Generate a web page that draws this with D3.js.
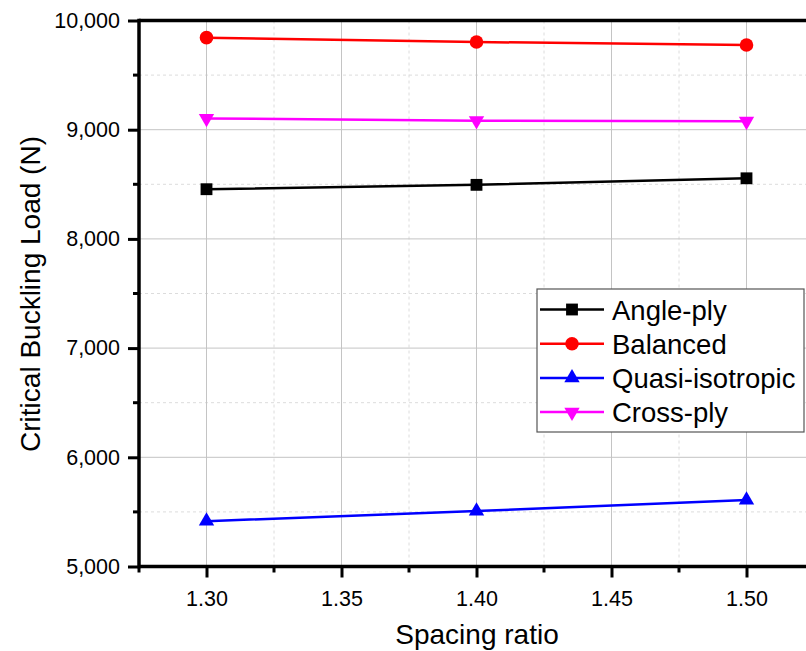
<!DOCTYPE html>
<html><head><meta charset="utf-8">
<script src="https://cdn.jsdelivr.net/npm/d3@7"></script>
<style>body{margin:0;background:#fff}svg{display:block}</style>
</head><body>
<script>
const xValues = [1.30, 1.40, 1.50];
const seriesNames = ["Angle-ply", "Balanced", "Quasi-isotropic", "Cross-ply"];
const angleply = [8455, 8495, 8555];
const balanced = [9843, 9803, 9775];
const quasi = [5415, 5508, 5608];
const crossply = [9103, 9083, 9077];
const xTicks = [1.30, 1.35, 1.40, 1.45, 1.50];
const xMinorTicks = [1.275, 1.325, 1.375, 1.425, 1.475, 1.525];
const yTicks = [5000, 6000, 7000, 8000, 9000, 10000];
const yMinorTicks = [5500, 6500, 7500, 8500, 9500];
const colors = ["#000000", "#ff0000", "#0000ff", "#ff00ff"];
const symbols = [d3.symbolSquare, d3.symbolCircle, d3.symbolTriangle, "down"];
const allSeries = [angleply, balanced, quasi, crossply];

(function () {
const W = 806, H = 651;
const pLeft = 139, pTop = 20.5, pBottom = 566.5;
const svg = d3.select("body").append("svg").attr("width", W).attr("height", H);
const x = d3.scaleLinear().domain([1.275, 1.53]).range([pLeft, pLeft + 135 * 5.1]);
const y = d3.scaleLinear().domain([5000, 10000]).range([pBottom, pTop]);
const pRight = W + 10;

const font = "'Liberation Sans', Arial, sans-serif";

// minor grid
svg.append("g").selectAll("line").data(xMinorTicks.filter(d => d > 1.28)).enter().append("line")
  .attr("x1", d => x(d)).attr("x2", d => x(d)).attr("y1", pTop).attr("y2", pBottom)
  .attr("stroke", "#dcdcdc").attr("stroke-dasharray", "3,3").attr("stroke-width", 1);
svg.append("g").selectAll("line").data(yMinorTicks).enter().append("line")
  .attr("x1", pLeft).attr("x2", pRight).attr("y1", d => y(d)).attr("y2", d => y(d))
  .attr("stroke", "#dcdcdc").attr("stroke-dasharray", "3,3").attr("stroke-width", 1);
// major grid
svg.append("g").selectAll("line").data(xTicks).enter().append("line")
  .attr("x1", d => x(d)).attr("x2", d => x(d)).attr("y1", pTop).attr("y2", pBottom)
  .attr("stroke", "#c4c4c4").attr("stroke-width", 1);
svg.append("g").selectAll("line").data(yTicks.slice(1, -1)).enter().append("line")
  .attr("x1", pLeft).attr("x2", pRight).attr("y1", d => y(d)).attr("y2", d => y(d))
  .attr("stroke", "#c4c4c4").attr("stroke-width", 1);

// axes
const xAxis = svg.append("g").attr("transform", `translate(0,${pBottom})`)
  .call(d3.axisBottom(x).tickValues(xTicks).tickFormat(d3.format(".2f")).tickSize(11).tickPadding(13));
xAxis.append("g").selectAll("line").data(xMinorTicks).enter().append("line")
  .attr("x1", d => x(d)).attr("x2", d => x(d)).attr("y1", 0).attr("y2", 6)
  .attr("stroke", "#000").attr("stroke-width", 3);
const yAxis = svg.append("g").attr("transform", `translate(${pLeft},0)`)
  .call(d3.axisLeft(y).tickValues(yTicks).tickFormat(d3.format(",")).tickSize(11).tickPadding(8));
yAxis.append("g").selectAll("line").data(yMinorTicks).enter().append("line")
  .attr("x1", 0).attr("x2", -6).attr("y1", d => y(d)).attr("y2", d => y(d))
  .attr("stroke", "#000").attr("stroke-width", 3);
[xAxis, yAxis].forEach(a => {
  a.select(".domain").remove();
  a.selectAll(".tick line").attr("stroke-width", 3);
  a.selectAll("text").attr("font-family", font).attr("font-size", 21.5).attr("fill", "#000");
});
// axis lines
svg.append("line").attr("x1", pLeft).attr("x2", pRight).attr("y1", pBottom).attr("y2", pBottom).attr("stroke", "#000").attr("stroke-width", 3.5);
svg.append("line").attr("x1", pLeft).attr("x2", pRight).attr("y1", pTop).attr("y2", pTop).attr("stroke", "#000").attr("stroke-width", 3.5);
svg.append("line").attr("x1", pLeft).attr("x2", pLeft).attr("y1", pTop - 1.7).attr("y2", pBottom + 1.7).attr("stroke", "#000").attr("stroke-width", 3.5);

function sym(s, size) {
  if (s === "down") return d3.symbol().type(d3.symbolTriangle).size(size)();
  return d3.symbol().type(s).size(size)();
}
function symTransform(i, cx, cy) {
  return `translate(${cx},${cy})` + (symbols[i] === "down" ? " rotate(180)" : "");
}
const sizes = [140, 145, 102, 102];

// series
allSeries.forEach((vals, i) => {
  const pts = xValues.map((xv, j) => [xv, vals[j]]);
  svg.append("path").datum(pts)
    .attr("d", d3.line().x(d => x(d[0])).y(d => y(d[1])))
    .attr("fill", "none").attr("stroke", colors[i]).attr("stroke-width", 2.5);
  svg.append("g").selectAll("path").data(pts).enter().append("path")
    .attr("d", sym(symbols[i], sizes[i]))
    .attr("transform", d => symTransform(i, x(d[0]), y(d[1])))
    .attr("fill", colors[i]);
});

// legend
const lg = svg.append("g");
lg.append("rect").attr("x", 537).attr("y", 289).attr("width", 267).attr("height", 143)
  .attr("fill", "#fff").attr("stroke", "#555").attr("stroke-width", 1.2);
seriesNames.forEach((name, i) => {
  const ly = 309.5 + i * 34.2;
  lg.append("line").attr("x1", 540).attr("x2", 604).attr("y1", ly).attr("y2", ly)
    .attr("stroke", colors[i]).attr("stroke-width", 2.5);
  lg.append("path").attr("d", sym(symbols[i], sizes[i]))
    .attr("transform", symTransform(i, 572, ly))
    .attr("fill", colors[i]);
  lg.append("text").attr("x", 612).attr("y", ly + 10).text(name)
    .attr("font-family", font).attr("font-size", 27.5).attr("fill", "#000");
});

// titles
svg.append("text").attr("x", 477).attr("y", 644).attr("text-anchor", "middle")
  .attr("font-family", font).attr("font-size", 28).text("Spacing ratio");
svg.append("text").attr("transform", "translate(40,294) rotate(-90)").attr("text-anchor", "middle")
  .attr("font-family", font).attr("font-size", 28).text("Critical Buckling Load (N)");
})();
</script>
</body></html>
